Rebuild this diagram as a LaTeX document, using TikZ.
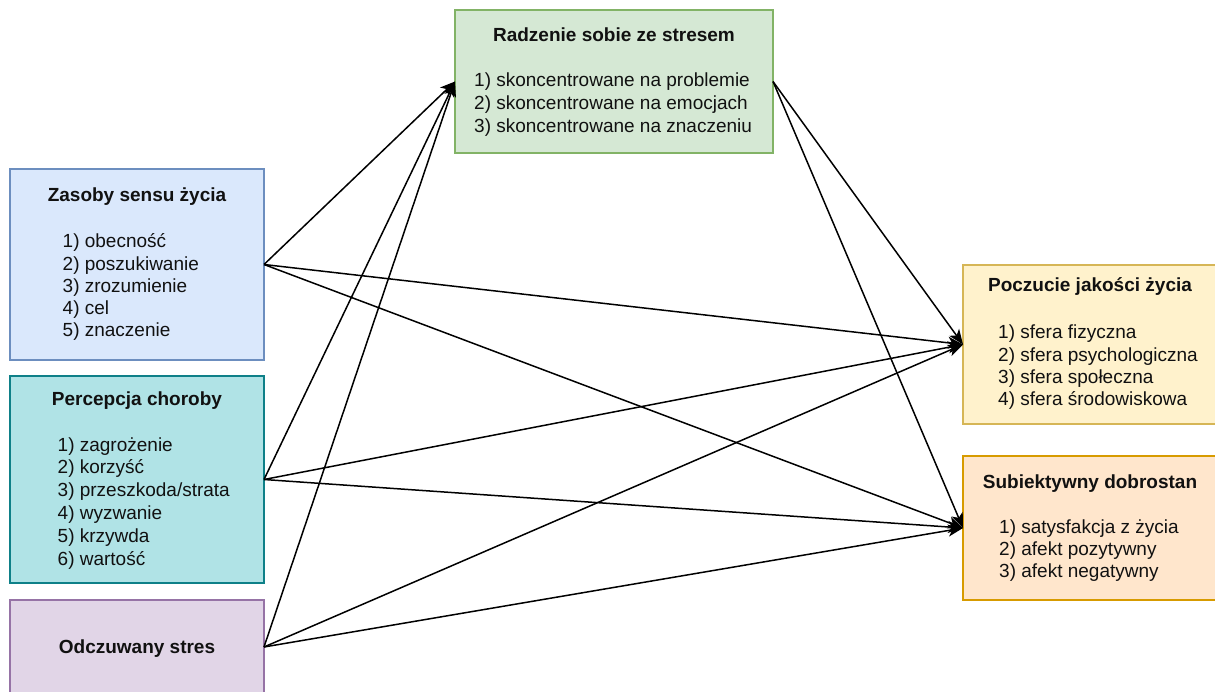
\documentclass[tikz,border=0pt]{standalone}
\usepackage{fontspec}
\setmainfont{Liberation Sans}
\usetikzlibrary{arrows.meta}

\definecolor{blueFill}{HTML}{DAE8FC}\definecolor{blueLine}{HTML}{6C8EBF}
\definecolor{tealFill}{HTML}{B0E3E6}\definecolor{tealLine}{HTML}{0E8088}
\definecolor{violetFill}{HTML}{E1D5E7}\definecolor{violetLine}{HTML}{9673A6}
\definecolor{greenFill}{HTML}{D5E8D4}\definecolor{greenLine}{HTML}{82B366}
\definecolor{yellowFill}{HTML}{FFF2CC}\definecolor{yellowLine}{HTML}{D6B656}
\definecolor{orangeFill}{HTML}{FFE6CC}\definecolor{orangeLine}{HTML}{D79B00}
\definecolor{ink}{HTML}{111111}

\tikzset{
  panel/.style={rectangle, line width=1.3pt, inner sep=0pt, outer sep=0pt},
  heading/.style={anchor=base, inner sep=0pt, text=ink,
    font=\fontsize{19}{22.5}\selectfont\bfseries},
  entry/.style={anchor=base west, inner sep=0pt, text=ink,
    font=\fontsize{19}{22.5}\selectfont},
  link/.style={line width=1.5pt, draw=black,
    -{Stealth[length=15pt, width=12pt, inset=4pt]}}
}

\begin{document}
\begin{tikzpicture}[x=1pt, y=-1pt]
\useasboundingbox (0,0) rectangle (1215,692);

% boxes
\node[panel, fill=blueFill, draw=blueLine, minimum width=254pt, minimum height=191pt] (res) at (137,264.5) {};
\node[panel, fill=tealFill, draw=tealLine, minimum width=254pt, minimum height=207pt] (ill) at (137,479.5) {};
\node[panel, fill=violetFill, draw=violetLine, minimum width=254pt, minimum height=94pt] (str) at (137,647) {};
\node[panel, fill=greenFill, draw=greenLine, minimum width=318pt, minimum height=143pt] (cop) at (614,81.5) {};
\node[panel, fill=yellowFill, draw=yellowLine, minimum width=254pt, minimum height=159pt] (qol) at (1090,344.5) {};
\node[panel, fill=orangeFill, draw=orangeLine, minimum width=254pt, minimum height=144pt] (swb) at (1090,528) {};

% headings
\node[heading] (resT) at (137,202) {Zasoby sensu życia};
\node[heading] (illT) at (137,405) {Percepcja choroby};
\node[heading] (strT) at (137,653.5) {Odczuwany stres};
\node[heading] (copT) at (614,42) {Radzenie sobie ze stresem};
\node[heading] (qolT) at (1090,292) {Poczucie jakości życia};
\node[heading] (swbT) at (1090,488.5) {Subiektywny dobrostan};

% item lists
\foreach \t [count=\i] in {1) obecność, 2) poszukiwanie, 3) zrozumienie, 4) cel, 5) znaczenie}
  \node[entry] (res-\i) at (62.5,{248+22.25*(\i-1)}) {\t};
\foreach \t [count=\i] in {1) zagrożenie, 2) korzyść, 3) przeszkoda/strata, 4) wyzwanie, 5) krzywda, 6) wartość}
  \node[entry] (ill-\i) at (57.5,{451+22.8*(\i-1)}) {\t};
\foreach \t [count=\i] in {1) skoncentrowane na problemie, 2) skoncentrowane na emocjach, 3) skoncentrowane na znaczeniu}
  \node[entry] (cop-\i) at (474,{86.5+22.9*(\i-1)}) {\t};
\foreach \t [count=\i] in {1) sfera fizyczna, 2) sfera psychologiczna, 3) sfera społeczna, 4) sfera środowiskowa}
  \node[entry] (qol-\i) at (998,{339+22.3*(\i-1)}) {\t};
\foreach \t [count=\i] in {1) satysfakcja z życia, 2) afekt pozytywny, 3) afekt negatywny}
  \node[entry] (swb-\i) at (999,{533.5+22.2*(\i-1)}) {\t};

% paths
\foreach \s in {res, ill, str} {
  \draw[link] (\s.east) -- (cop.west);
  \draw[link] (\s.east) -- (qol.west);
  \draw[link] (\s.east) -- (swb.west);
}
\draw[link] (cop.east) -- (qol.west);
\draw[link] (cop.east) -- (swb.west);
\end{tikzpicture}
\end{document}
